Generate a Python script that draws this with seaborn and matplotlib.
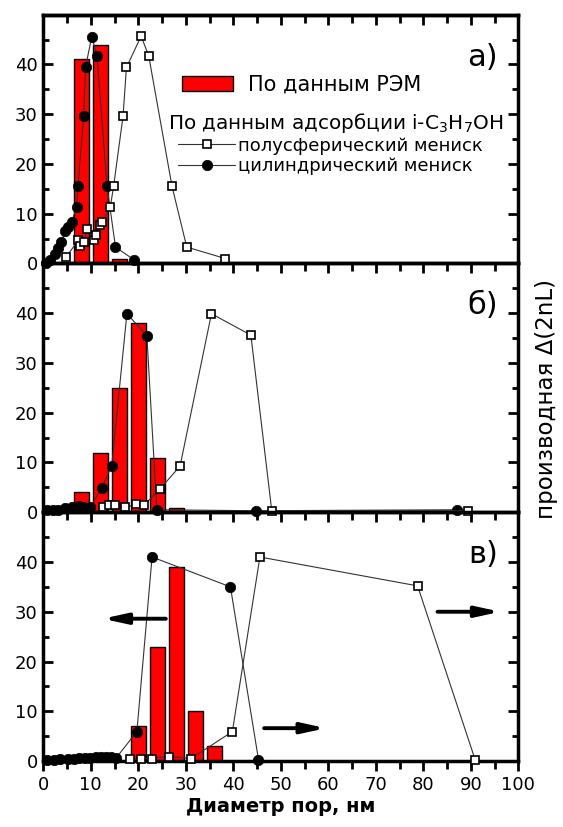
import numpy as np
import pandas as pd
import matplotlib
matplotlib.use('Agg')
import matplotlib.pyplot as plt
import seaborn as sns
from matplotlib.patches import Patch
from matplotlib.lines import Line2D
from matplotlib.ticker import MultipleLocator, FixedLocator

sns.set_style('ticks', {'axes.edgecolor': 'black', 'xtick.color': 'black',
                        'ytick.color': 'black', 'text.color': 'black',
                        'axes.labelcolor': 'black'})
plt.rcParams['font.family'] = ['DejaVu Sans']

# ---------------- data ----------------
# panel а)
sem_a_x = [8, 12, 16]
sem_a_y = [41, 44, 1]
cyl_a_x = [0.5, 1.5, 2.5, 3.2, 3.8, 4.6, 5.3, 6.0, 7.0, 7.3, 8.5, 8.9, 10.2, 11.3, 13.4, 15.2, 19.0]
cyl_a_y = [0.0, 0.8, 2.0, 3.2, 4.3, 6.5, 7.3, 8.4, 11.4, 15.5, 29.7, 39.5, 45.6, 41.8, 15.6, 3.3, 0.8]
hem_a_x = [4.8, 7.4, 7.8, 8.5, 9.3, 10.6, 11.0, 11.9, 12.4, 14.1, 14.8, 16.8, 17.5, 20.6, 22.2, 27.1, 30.2, 38.3]
hem_a_y = [1.3, 4.7, 3.5, 4.4, 7.0, 4.7, 5.7, 7.7, 8.4, 11.3, 15.5, 29.7, 39.4, 45.7, 41.7, 15.5, 3.3, 1.0]

# panel б)
sem_b_x = [8, 12, 16, 20, 24, 28]
sem_b_y = [4, 12, 25, 38, 11, 0.8]
cyl_b_x = [0.8, 2.0, 3.1, 4.5, 6.1, 7.5, 8.4, 9.9, 12.3, 14.4, 17.6, 21.8, 23.9, 44.7, 87.1]
cyl_b_y = [0.5, 0.5, 0.5, 0.8, 1.0, 1.2, 1.0, 1.0, 4.9, 9.3, 39.9, 35.5, 0.5, 0.3, 0.5]
hem_b_x = [12.5, 13.8, 15.2, 17.3, 19.6, 21.2, 24.6, 28.8, 35.4, 43.7, 48.1, 89.4]
hem_b_y = [1.0, 1.4, 1.4, 1.0, 1.6, 1.4, 4.7, 9.3, 39.9, 35.6, 0.3, 0.3]

# panel в)
sem_c_x = [20, 24, 28, 32, 36]
sem_c_y = [7, 23, 39, 10, 3]
cyl_c_x = [0.8, 2.2, 3.6, 5.3, 6.4, 7.6, 8.7, 9.8, 11.0, 12.1, 13.2, 14.3, 15.4, 19.7, 22.9, 39.4, 45.3]
cyl_c_y = [0.3, 0.3, 0.4, 0.5, 0.5, 0.6, 0.6, 0.7, 0.8, 0.8, 0.9, 0.8, 0.7, 5.9, 41.0, 35.0, 0.3]
hem_c_x = [18.2, 20.5, 22.8, 26.4, 31.1, 39.8, 45.6, 78.8, 90.9]
hem_c_y = [0.5, 0.5, 0.5, 0.9, 0.5, 5.9, 41.0, 35.2, 0.3]

panel_labels = ['а)', 'б)', 'в)']
x_label = 'Диаметр пор, нм'
y_label = 'производная Δ(2nL)'
legend_sem = 'По данным РЭМ'
legend_title = 'По данным адсорбции i-C$_3$H$_7$OH'
legend_hem = 'полусферический мениск'
legend_cyl = 'цилиндрический мениск'

# ---------------- figure ----------------
fig = plt.figure(figsize=(5.63, 8.27), dpi=100)
L, W, H = 0.0769, 0.8437, 0.3008
bottoms = [0.6814, 0.3806, 0.0798]
axes = [fig.add_axes([L, b, W, H]) for b in bottoms]

panels = [
    (sem_a_x, sem_a_y, cyl_a_x, cyl_a_y, hem_a_x, hem_a_y),
    (sem_b_x, sem_b_y, cyl_b_x, cyl_b_y, hem_b_x, hem_b_y),
    (sem_c_x, sem_c_y, cyl_c_x, cyl_c_y, hem_c_x, hem_c_y),
]

LINE_C = '#333333'
sq_kw = dict(marker='s', ms=5.5, mfc='white', mec='black', mew=1.2)
ci_kw = dict(marker='o', ms=7.5, mfc='black', mec='black', mew=0.5)

for i, (ax, (sx, sy, cx, cy, hx, hy)) in enumerate(zip(axes, panels)):
    ax.patch.set_alpha(0)
    sem_df = pd.DataFrame({'d': sx, 'v': sy})
    sns.barplot(data=sem_df, x='d', y='v', native_scale=True, orient='x', width=0.8,
                color='#ff0000', saturation=1, edgecolor='black', linewidth=1.0,
                errorbar=None, ax=ax, zorder=2)
    sns.lineplot(x=cx, y=cy, sort=False, estimator=None, color=LINE_C, lw=0.8,
                 clip_on=False, zorder=3, ax=ax, **ci_kw)
    sns.lineplot(x=hx, y=hy, sort=False, estimator=None, color=LINE_C, lw=0.8,
                 clip_on=False, zorder=4, ax=ax, **sq_kw)

    ax.set_xlim(0, 100)
    ax.set_ylim(0, 50)
    ax.set_xlabel('')
    ax.set_ylabel('')
    ax.xaxis.set_major_locator(MultipleLocator(10))
    ax.xaxis.set_minor_locator(MultipleLocator(5))
    ax.yaxis.set_major_locator(FixedLocator([0, 10, 20, 30, 40]))
    ax.yaxis.set_minor_locator(FixedLocator([5, 15, 25, 35, 45]))
    ax.tick_params(axis='y', which='both', direction='in', left=True, right=True,
                   width=2, labelsize=13, pad=4)
    ax.tick_params(axis='y', which='major', length=7)
    ax.tick_params(axis='y', which='minor', length=4)
    ax.tick_params(axis='x', which='both', direction='out', bottom=True, top=False,
                   width=2, labelsize=13, pad=4, labelbottom=(i == 2))
    ax.tick_params(axis='x', which='major', length=7)
    ax.tick_params(axis='x', which='minor', length=6)
    for sp in ax.spines.values():
        sp.set_linewidth(2.5)
        sp.set_color('black')
        sp.set_visible(True)
    ax.text(0.957, 0.83, panel_labels[i], transform=ax.transAxes, fontsize=22,
            ha='right', va='center')

# top ticks of the upper panel, pointing inward
sec = axes[0].secondary_xaxis('top')
sec.xaxis.set_major_locator(MultipleLocator(10))
sec.xaxis.set_minor_locator(MultipleLocator(5))
sec.tick_params(axis='x', which='both', direction='in', width=2, labeltop=False)
sec.tick_params(axis='x', which='major', length=7)
sec.tick_params(axis='x', which='minor', length=6)
sec.spines['top'].set_linewidth(2.5)

# arrows in panel в)
arrow_kw = dict(arrowstyle='-|>,head_length=1.0,head_width=0.22', lw=2.8, color='black',
                shrinkA=0, shrinkB=0, mutation_scale=14)
axes[2].annotate('', xy=(12.5, 28.6), xytext=(25.8, 28.6), arrowprops=arrow_kw)
axes[2].annotate('', xy=(59.5, 6.6), xytext=(46.5, 6.6), arrowprops=arrow_kw)
axes[2].annotate('', xy=(96.2, 30.0), xytext=(83.0, 30.0), arrowprops=arrow_kw)

axes[2].set_xlabel(x_label, fontsize=14, fontweight='bold', labelpad=2)

# legends
ax0 = axes[0]
leg1 = ax0.legend(handles=[Patch(facecolor='#ff0000', edgecolor='black', linewidth=1)],
                  labels=[legend_sem], loc='upper left', bbox_to_anchor=(0.292, 0.759),
                  frameon=False, fontsize=15, handlelength=2.45, handleheight=0.72,
                  handletextpad=0.72, borderpad=0, borderaxespad=0)
ax0.add_artist(leg1)
ax0.text(0.2625, 0.566, legend_title, transform=ax0.transAxes, fontsize=14.4,
         ha='left', va='center')
h_hem = Line2D([], [], color=LINE_C, lw=0.8, **sq_kw)
h_cyl = Line2D([], [], color=LINE_C, lw=0.8, **ci_kw)
leg2 = ax0.legend(handles=[h_hem, h_cyl], labels=[legend_hem, legend_cyl],
                  fontsize=13, loc='upper left', bbox_to_anchor=(0.284, 0.510),
                  frameon=False, handlelength=3.15, handletextpad=0.17,
                  labelspacing=0.15, borderpad=0, borderaxespad=0)

fig.text(0.970, 0.372, y_label, rotation=90, fontsize=16.5, ha='center', va='bottom')

fig.savefig('out.png', dpi=100)
